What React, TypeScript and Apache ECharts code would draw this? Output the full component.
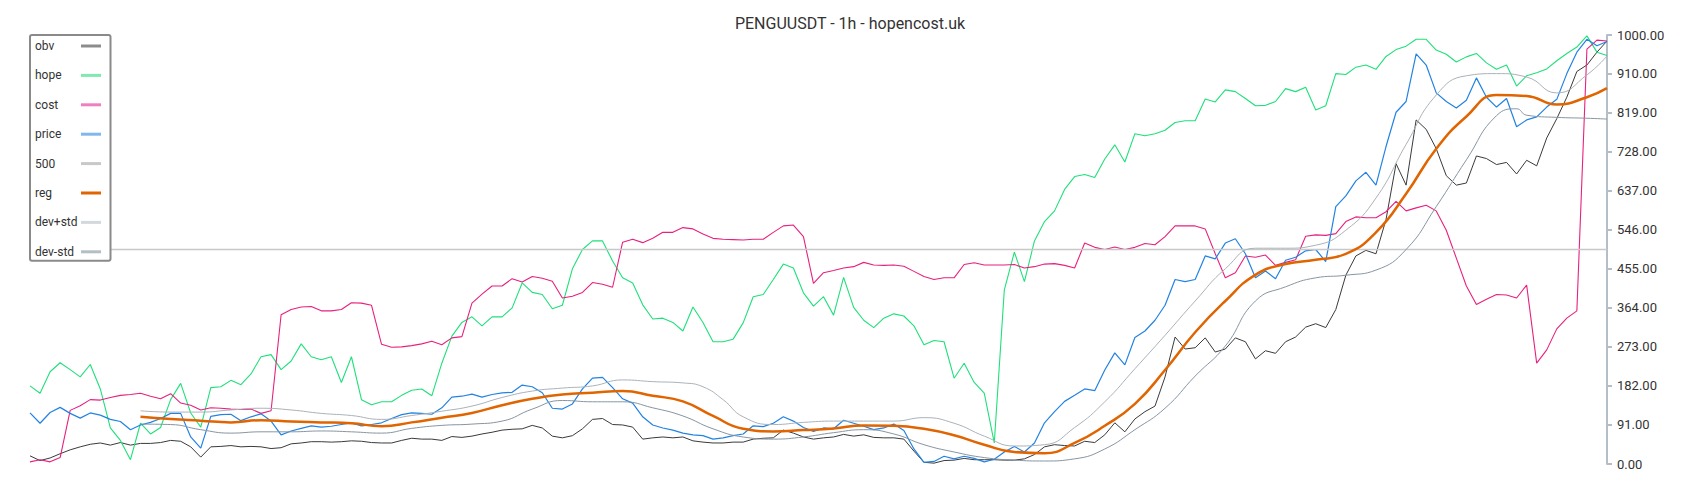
import React, { useEffect, useRef } from "react";
import * as echarts from "echarts";

const chartTitle = "PENGUUSDT - 1h - hopencost.uk";
const legendNames = ["obv", "hope", "cost", "price", "500", "reg", "dev+std", "dev-std"];
const yMin = 0;
const yMax = 1000;
const yStep = 91;

const obv = [19,8,14,24,33,40,46,49,44,50,
 44,48,48,50,55,53,40,16,40,41,
 43,40,41,40,36,38,47,49,52,52,
 51,52,54,53,50,49,49,55,60,58,
 58,55,64,62,65,70,74,79,81,82,
 90,84,65,61,66,82,104,106,92,91,
 86,58,61,63,61,63,54,51,49,49,
 51,51,58,60,61,79,72,63,58,61,
 63,69,65,68,62,61,61,58,30,4,
 2,8,9,13,10,10,10,9,9,12,
 22,40,45,43,42,53,50,68,96,75,
 105,122,135,203,296,268,271,294,261,268,
 294,285,245,264,258,285,296,319,327,318,
 360,440,485,498,490,570,700,650,802,780,
 735,672,650,655,718,712,698,703,676,708,
 695,760,805,855,915,930,960,986];

const hope = [182,165,215,236,220,203,232,175,84,55,
 10,95,70,85,150,188,119,86,178,180,
 195,185,210,250,255,220,240,280,250,243,
 250,190,250,150,138,145,145,160,172,175,
 159,235,298,330,343,322,343,343,364,422,
 400,395,362,370,455,500,520,520,473,434,
 422,371,338,340,330,310,366,330,285,285,
 291,329,390,395,430,466,457,399,368,390,
 347,435,365,335,318,340,350,345,322,278,
 288,285,200,235,190,165,49,406,494,425,
 520,565,590,640,670,675,668,711,744,704,
 770,765,770,778,796,800,800,851,844,872,
 868,852,835,836,845,875,868,878,825,835,
 910,908,925,930,920,950,966,974,990,990,
 965,955,937,949,957,935,920,930,881,905,
 912,921,940,957,972,998,960,952];

const cost = [5,10,5,15,125,136,150,149,155,160,
 162,165,158,152,164,142,137,126,131,130,
 128,127,128,118,124,348,360,366,367,357,
 357,360,376,375,370,279,272,273,276,280,
 286,278,294,297,375,396,415,415,432,424,
 437,433,426,387,391,400,423,419,412,517,
 524,516,526,540,540,551,548,536,526,524,
 523,522,524,524,540,555,557,530,421,446,
 451,457,460,470,464,463,464,461,449,437,
 430,434,434,465,469,464,464,464,465,457,
 460,466,467,463,457,515,505,500,506,500,
 505,514,511,530,555,555,555,548,490,434,
 446,485,482,487,463,470,476,531,534,533,
 537,565,576,574,574,588,612,590,597,603,
 590,545,480,415,372,384,395,394,387,417,
 235,266,315,340,357,967,988,986];

const price = [119,95,120,132,118,107,119,114,104,99,
 80,91,97,106,118,118,63,37,111,115,
 116,101,110,117,100,68,77,83,89,86,
 88,92,96,89,92,96,106,115,119,118,
 116,131,156,158,163,156,162,166,167,184,
 180,166,130,128,140,175,200,202,178,152,
 142,110,91,84,79,72,68,66,58,61,
 66,70,89,87,95,110,100,85,76,84,
 82,102,95,88,80,84,93,78,35,4,
 6,18,12,18,13,5,11,28,41,28,
 49,96,122,146,160,175,171,219,259,231,
 295,310,335,370,430,425,430,485,478,515,
 525,490,434,450,432,475,482,497,500,472,
 600,625,660,680,650,740,820,845,956,930,
 865,845,830,848,900,855,832,852,786,802,
 809,832,850,910,960,990,975,985];

const line500 = [[0, 500], [157, 500]];

const reg = [[11,110],[14,105],[17,101],[20,97],[23,102],[26,99],[29,97],[32,95],[35,88],[38,97],
 [41,108],[44,119],[47,137],[50,152],[53,162],[56,166],[59,170],[62,159],[65,146],[68,112],
 [71,82],[74,76],[77,79],[80,83],[83,90],[86,89],[89,82],[92,67],[95,45],[98,28],
 [101,25],[104,49],[107,89],[110,140],[113,219],[116,307],[119,380],[122,441],[125,466],[128,476],
 [131,490],[134,540],[137,630],[140,735],[143,810],[146,860],[149,858],[152,838],[155,855],[157,876]];

const devPlus = [[11,124],[14,121],[17,121],[20,126],[23,130],[26,126],[29,118],[32,113],[35,104],[38,113],
 [41,123],[44,135],[47,155],[50,170],[53,177],[56,182],[59,196],[62,192],[65,189],[67,180],
 [69,150],[71,110],[74,92],[77,97],[80,100],[83,100],[86,100],[89,108],[92,95],[95,65],
 [98,42],[101,45],[104,85],[107,145],[110,222],[113,300],[116,380],[119,455],[122,503],[125,503],
 [128,510],[131,545],[134,620],[137,745],[140,860],[143,905],[146,910],[149,902],[152,865],[155,907],
 [157,951]];

const devMinus = [[11,93],[14,92],[17,80],[20,72],[23,75],[26,75],[29,77],[32,75],[35,72],[38,83],
 [41,90],[44,93],[47,100],[50,128],[53,148],[56,145],[59,145],[62,131],[65,112],[68,82],
 [71,63],[74,58],[77,63],[80,73],[83,80],[86,70],[89,45],[92,28],[95,15],[98,9],
 [101,7],[104,12],[107,35],[110,80],[113,130],[116,205],[119,275],[122,380],[125,413],[128,434],
 [131,440],[134,452],[137,500],[140,600],[143,709],[146,812],[148,828],[149,813],[152,808],[155,806],
 [157,804]];

const lineColors = ["#3a3a3a", "#1fe07a", "#e8207e", "#2383e2", "#c8c8c8", "#e06400", "#aab2b8", "#8795a1"];
const iconColors = ["#8c8c8c", "#80e9b2", "#f07fc0", "#80b8ee", "#c8c8c8", "#e06400", "#d3d8dc", "#b3bec5"];
const lineWidths = [1, 1.1, 1.1, 1.2, 1.5, 2.5, 1, 1];

const idx = (arr: number[]) => arr.map((v, i) => [i, v]);

export default function App() {
  const ref = useRef<HTMLDivElement>(null);
  useEffect(() => {
    if (!ref.current) return;
    const chart = echarts.init(ref.current, undefined, { renderer: "svg" });
    const datasets = [idx(obv), idx(hope), idx(cost), idx(price), line500, reg, devPlus, devMinus];
    chart.setOption({
      animation: false,
      backgroundColor: "#ffffff",
      title: {
        text: chartTitle,
        left: "center",
        top: 15,
        padding: 0,
        textStyle: { fontFamily: "Roboto", fontSize: 16, fontWeight: "normal", color: "#333" },
      },
      legend: {
        orient: "vertical",
        left: 30,
        top: 35,
        align: "right",
        backgroundColor: "#ffffff",
        borderColor: "#8a8a8a",
        borderWidth: 2,
        borderRadius: 2,
        padding: [5, 8, 3, 5],
        itemGap: 17.4,
        itemWidth: 20,
        itemHeight: 12,
        formatter: (name: string) => `{t|${name}}`,
        textStyle: {
          fontFamily: "Roboto",
          fontSize: 12,
          color: "#333",
          rich: { t: { width: 41, align: "left", fontFamily: "Roboto", fontSize: 12, color: "#333" } },
        },
        data: legendNames.map((n, k) => ({
          name: n,
          itemStyle: { color: iconColors[k], opacity: 0 },
          lineStyle: { color: iconColors[k], width: 3, opacity: 1 },
        })),
      },
      grid: { left: 30, right: 93, top: 35, bottom: 36, containLabel: false },
      xAxis: { type: "value", min: 0, max: 157, show: false },
      yAxis: {
        type: "value",
        position: "right",
        min: yMin,
        max: yMax,
        interval: yStep,
        axisLine: { show: true, onZero: false, lineStyle: { color: "#b4bec6", width: 2 } },
        axisTick: { show: true, length: 5, lineStyle: { color: "#b4bec6", width: 2 } },
        splitLine: { show: false },
        axisLabel: {
          formatter: (v: number) => v.toFixed(2),
          color: "#333",
          fontSize: 13,
          fontFamily: "Roboto",
          margin: 10,
        },
      },
      series: legendNames.map((n, k) => ({
        name: n,
        type: "line",
        data: datasets[k],
        showSymbol: false,
        symbol: "none",
        smooth: k >= 5,
        color: lineColors[k],
        lineStyle: { color: lineColors[k], width: lineWidths[k] },
        z: 2,
      })),
    });
    return () => chart.dispose();
  }, []);
  return (
    <div
      ref={ref}
      style={{ position: "fixed", left: 0, top: 0, width: 1700, height: 500, background: "#fff" }}
    />
  );
}
